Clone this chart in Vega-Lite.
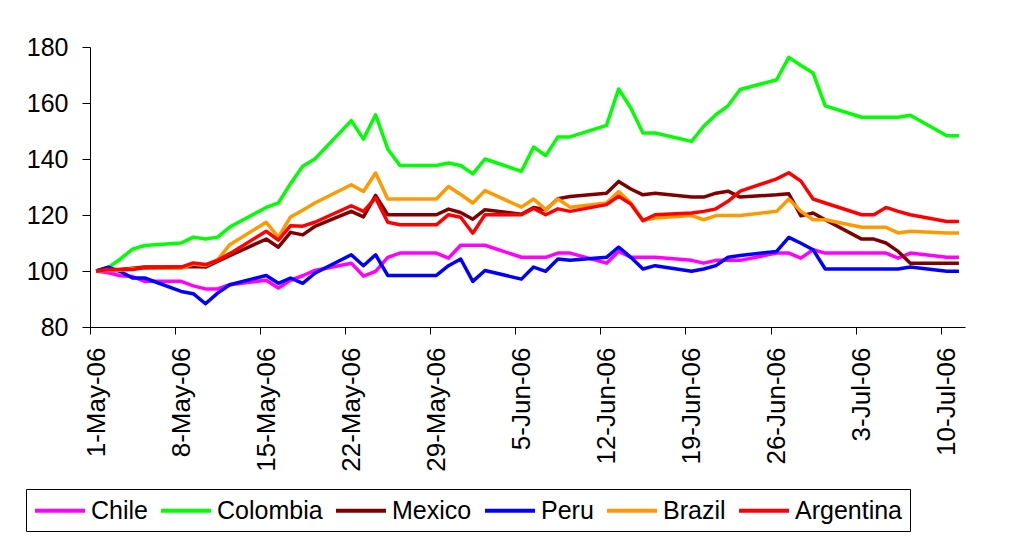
{
  "$schema": "https://vega.github.io/schema/vega-lite/v6.json",
  "autosize": {"type": "none"},
  "padding": {"left": 90, "top": 47, "right": 44, "bottom": 213},
  "width": 875,
  "height": 280,
  "background": "white",
  "config": {
    "view": {"stroke": null},
    "font": "Liberation Sans",
    "axis": {"grid": false, "domainColor": "#000", "tickColor": "#000", "labelColor": "#000", "labelFont": "Liberation Sans", "labelFontSize": 24, "title": null}
  },
  "datasets": {
    "series": [
      {"country":"Chile","date":"2006/05/01","value":100},{"country":"Chile","date":"2006/05/02","value":99.4},{"country":"Chile","date":"2006/05/03","value":98.3},{"country":"Chile","date":"2006/05/04","value":98},{"country":"Chile","date":"2006/05/05","value":96.3},
      {"country":"Chile","date":"2006/05/08","value":96.3},{"country":"Chile","date":"2006/05/09","value":94.7},{"country":"Chile","date":"2006/05/10","value":93.6},{"country":"Chile","date":"2006/05/11","value":93.6},{"country":"Chile","date":"2006/05/12","value":95.1},
      {"country":"Chile","date":"2006/05/15","value":96.7},{"country":"Chile","date":"2006/05/16","value":93.9},{"country":"Chile","date":"2006/05/17","value":96.7},{"country":"Chile","date":"2006/05/18","value":98.3},{"country":"Chile","date":"2006/05/19","value":100.2},
      {"country":"Chile","date":"2006/05/22","value":102.8},{"country":"Chile","date":"2006/05/23","value":98.2},{"country":"Chile","date":"2006/05/24","value":99.9},{"country":"Chile","date":"2006/05/25","value":104.9},{"country":"Chile","date":"2006/05/26","value":106.4},
      {"country":"Chile","date":"2006/05/29","value":106.4},{"country":"Chile","date":"2006/05/30","value":104.6},{"country":"Chile","date":"2006/05/31","value":109.2},{"country":"Chile","date":"2006/06/01","value":109.2},{"country":"Chile","date":"2006/06/02","value":109.2},
      {"country":"Chile","date":"2006/06/05","value":104.9},{"country":"Chile","date":"2006/06/06","value":104.9},{"country":"Chile","date":"2006/06/07","value":104.9},{"country":"Chile","date":"2006/06/08","value":106.4},{"country":"Chile","date":"2006/06/09","value":106.4},
      {"country":"Chile","date":"2006/06/12","value":102.8},{"country":"Chile","date":"2006/06/13","value":107},{"country":"Chile","date":"2006/06/14","value":104.9},{"country":"Chile","date":"2006/06/15","value":104.9},{"country":"Chile","date":"2006/06/16","value":104.9},
      {"country":"Chile","date":"2006/06/19","value":103.8},{"country":"Chile","date":"2006/06/20","value":102.8},{"country":"Chile","date":"2006/06/21","value":103.8},{"country":"Chile","date":"2006/06/22","value":103.8},{"country":"Chile","date":"2006/06/23","value":103.8},
      {"country":"Chile","date":"2006/06/26","value":106.4},{"country":"Chile","date":"2006/06/27","value":106.4},{"country":"Chile","date":"2006/06/28","value":104.6},{"country":"Chile","date":"2006/06/29","value":107.6},{"country":"Chile","date":"2006/06/30","value":106.4},
      {"country":"Chile","date":"2006/07/03","value":106.4},{"country":"Chile","date":"2006/07/04","value":106.4},{"country":"Chile","date":"2006/07/05","value":106.4},{"country":"Chile","date":"2006/07/06","value":104.6},{"country":"Chile","date":"2006/07/07","value":106.4},
      {"country":"Chile","date":"2006/07/10","value":104.9},{"country":"Chile","date":"2006/07/11","value":104.9},

      {"country":"Colombia","date":"2006/05/01","value":100},{"country":"Colombia","date":"2006/05/02","value":101.2},{"country":"Colombia","date":"2006/05/03","value":104.3},{"country":"Colombia","date":"2006/05/04","value":107.8},{"country":"Colombia","date":"2006/05/05","value":109.1},
      {"country":"Colombia","date":"2006/05/08","value":110},{"country":"Colombia","date":"2006/05/09","value":112.1},{"country":"Colombia","date":"2006/05/10","value":111.4},{"country":"Colombia","date":"2006/05/11","value":112.1},{"country":"Colombia","date":"2006/05/12","value":115.7},
      {"country":"Colombia","date":"2006/05/15","value":122.7},{"country":"Colombia","date":"2006/05/16","value":124.3},{"country":"Colombia","date":"2006/05/17","value":131.2},{"country":"Colombia","date":"2006/05/18","value":137.4},{"country":"Colombia","date":"2006/05/19","value":140},
      {"country":"Colombia","date":"2006/05/22","value":153.7},{"country":"Colombia","date":"2006/05/23","value":147.1},{"country":"Colombia","date":"2006/05/24","value":155.8},{"country":"Colombia","date":"2006/05/25","value":143.6},{"country":"Colombia","date":"2006/05/26","value":137.7},
      {"country":"Colombia","date":"2006/05/29","value":137.7},{"country":"Colombia","date":"2006/05/30","value":138.6},{"country":"Colombia","date":"2006/05/31","value":137.7},{"country":"Colombia","date":"2006/06/01","value":134.7},{"country":"Colombia","date":"2006/06/02","value":140},
      {"country":"Colombia","date":"2006/06/05","value":135.6},{"country":"Colombia","date":"2006/06/06","value":144.3},{"country":"Colombia","date":"2006/06/07","value":141.2},{"country":"Colombia","date":"2006/06/08","value":147.9},{"country":"Colombia","date":"2006/06/09","value":147.9},
      {"country":"Colombia","date":"2006/06/12","value":152},{"country":"Colombia","date":"2006/06/13","value":165},{"country":"Colombia","date":"2006/06/14","value":158.2},{"country":"Colombia","date":"2006/06/15","value":149.3},{"country":"Colombia","date":"2006/06/16","value":149.3},
      {"country":"Colombia","date":"2006/06/19","value":146.3},{"country":"Colombia","date":"2006/06/20","value":151.7},{"country":"Colombia","date":"2006/06/21","value":155.8},{"country":"Colombia","date":"2006/06/22","value":159},{"country":"Colombia","date":"2006/06/23","value":164.8},
      {"country":"Colombia","date":"2006/06/26","value":168.3},{"country":"Colombia","date":"2006/06/27","value":176.3},{"country":"Colombia","date":"2006/06/28","value":173.4},{"country":"Colombia","date":"2006/06/29","value":170.7},{"country":"Colombia","date":"2006/06/30","value":159},
      {"country":"Colombia","date":"2006/07/03","value":154.9},{"country":"Colombia","date":"2006/07/04","value":154.9},{"country":"Colombia","date":"2006/07/05","value":154.9},{"country":"Colombia","date":"2006/07/06","value":154.9},{"country":"Colombia","date":"2006/07/07","value":155.6},
      {"country":"Colombia","date":"2006/07/10","value":148.3},{"country":"Colombia","date":"2006/07/11","value":148.3},

      {"country":"Mexico","date":"2006/05/01","value":100},{"country":"Mexico","date":"2006/05/02","value":100.3},{"country":"Mexico","date":"2006/05/03","value":100.5},{"country":"Mexico","date":"2006/05/04","value":101},{"country":"Mexico","date":"2006/05/05","value":101.4},
      {"country":"Mexico","date":"2006/05/08","value":101.4},{"country":"Mexico","date":"2006/05/09","value":101.6},{"country":"Mexico","date":"2006/05/10","value":101.4},{"country":"Mexico","date":"2006/05/11","value":103.4},{"country":"Mexico","date":"2006/05/12","value":105.5},
      {"country":"Mexico","date":"2006/05/15","value":111.4},{"country":"Mexico","date":"2006/05/16","value":108.5},{"country":"Mexico","date":"2006/05/17","value":113.8},{"country":"Mexico","date":"2006/05/18","value":112.9},{"country":"Mexico","date":"2006/05/19","value":115.9},
      {"country":"Mexico","date":"2006/05/22","value":121.3},{"country":"Mexico","date":"2006/05/23","value":119.3},{"country":"Mexico","date":"2006/05/24","value":127},{"country":"Mexico","date":"2006/05/25","value":120.1},{"country":"Mexico","date":"2006/05/26","value":120.1},
      {"country":"Mexico","date":"2006/05/29","value":120.1},{"country":"Mexico","date":"2006/05/30","value":122.1},{"country":"Mexico","date":"2006/05/31","value":120.9},{"country":"Mexico","date":"2006/06/01","value":118.5},{"country":"Mexico","date":"2006/06/02","value":121.9},
      {"country":"Mexico","date":"2006/06/05","value":120.3},{"country":"Mexico","date":"2006/06/06","value":122.7},{"country":"Mexico","date":"2006/06/07","value":121.9},{"country":"Mexico","date":"2006/06/08","value":125.8},{"country":"Mexico","date":"2006/06/09","value":126.6},
      {"country":"Mexico","date":"2006/06/12","value":127.8},{"country":"Mexico","date":"2006/06/13","value":132},{"country":"Mexico","date":"2006/06/14","value":129.3},{"country":"Mexico","date":"2006/06/15","value":127.2},{"country":"Mexico","date":"2006/06/16","value":127.8},
      {"country":"Mexico","date":"2006/06/19","value":126.4},{"country":"Mexico","date":"2006/06/20","value":126.4},{"country":"Mexico","date":"2006/06/21","value":127.8},{"country":"Mexico","date":"2006/06/22","value":128.5},{"country":"Mexico","date":"2006/06/23","value":126.4},
      {"country":"Mexico","date":"2006/06/26","value":127.2},{"country":"Mexico","date":"2006/06/27","value":127.6},{"country":"Mexico","date":"2006/06/28","value":119.7},{"country":"Mexico","date":"2006/06/29","value":120.7},{"country":"Mexico","date":"2006/06/30","value":118.3},
      {"country":"Mexico","date":"2006/07/03","value":111.4},{"country":"Mexico","date":"2006/07/04","value":111.4},{"country":"Mexico","date":"2006/07/05","value":110},{"country":"Mexico","date":"2006/07/06","value":107},{"country":"Mexico","date":"2006/07/07","value":102.8},
      {"country":"Mexico","date":"2006/07/10","value":102.8},{"country":"Mexico","date":"2006/07/11","value":102.8},

      {"country":"Peru","date":"2006/05/01","value":100},{"country":"Peru","date":"2006/05/02","value":101.4},{"country":"Peru","date":"2006/05/03","value":99.8},{"country":"Peru","date":"2006/05/04","value":97.5},{"country":"Peru","date":"2006/05/05","value":97.5},
      {"country":"Peru","date":"2006/05/08","value":92.7},{"country":"Peru","date":"2006/05/09","value":91.9},{"country":"Peru","date":"2006/05/10","value":88.3},{"country":"Peru","date":"2006/05/11","value":92.1},{"country":"Peru","date":"2006/05/12","value":95.1},
      {"country":"Peru","date":"2006/05/15","value":98.4},{"country":"Peru","date":"2006/05/16","value":95.6},{"country":"Peru","date":"2006/05/17","value":97.5},{"country":"Peru","date":"2006/05/18","value":95.6},{"country":"Peru","date":"2006/05/19","value":99.2},
      {"country":"Peru","date":"2006/05/22","value":105.8},{"country":"Peru","date":"2006/05/23","value":101.9},{"country":"Peru","date":"2006/05/24","value":105.8},{"country":"Peru","date":"2006/05/25","value":98.4},{"country":"Peru","date":"2006/05/26","value":98.4},
      {"country":"Peru","date":"2006/05/29","value":98.4},{"country":"Peru","date":"2006/05/30","value":101.9},{"country":"Peru","date":"2006/05/31","value":104.3},{"country":"Peru","date":"2006/06/01","value":96.3},{"country":"Peru","date":"2006/06/02","value":100.2},
      {"country":"Peru","date":"2006/06/05","value":97.1},{"country":"Peru","date":"2006/06/06","value":101.4},{"country":"Peru","date":"2006/06/07","value":99.9},{"country":"Peru","date":"2006/06/08","value":104.3},{"country":"Peru","date":"2006/06/09","value":103.8},
      {"country":"Peru","date":"2006/06/12","value":104.9},{"country":"Peru","date":"2006/06/13","value":108.5},{"country":"Peru","date":"2006/06/14","value":104.9},{"country":"Peru","date":"2006/06/15","value":100.7},{"country":"Peru","date":"2006/06/16","value":101.9},
      {"country":"Peru","date":"2006/06/19","value":99.9},{"country":"Peru","date":"2006/06/20","value":100.7},{"country":"Peru","date":"2006/06/21","value":101.9},{"country":"Peru","date":"2006/06/22","value":104.9},{"country":"Peru","date":"2006/06/23","value":105.5},
      {"country":"Peru","date":"2006/06/26","value":107},{"country":"Peru","date":"2006/06/27","value":112},{"country":"Peru","date":"2006/06/28","value":109.9},{"country":"Peru","date":"2006/06/29","value":107.6},{"country":"Peru","date":"2006/06/30","value":100.7},
      {"country":"Peru","date":"2006/07/03","value":100.7},{"country":"Peru","date":"2006/07/04","value":100.7},{"country":"Peru","date":"2006/07/05","value":100.7},{"country":"Peru","date":"2006/07/06","value":100.7},{"country":"Peru","date":"2006/07/07","value":101.4},
      {"country":"Peru","date":"2006/07/10","value":99.9},{"country":"Peru","date":"2006/07/11","value":99.9},

      {"country":"Brazil","date":"2006/05/01","value":100},{"country":"Brazil","date":"2006/05/02","value":100.2},{"country":"Brazil","date":"2006/05/03","value":100.3},{"country":"Brazil","date":"2006/05/04","value":100.8},{"country":"Brazil","date":"2006/05/05","value":101},
      {"country":"Brazil","date":"2006/05/08","value":101},{"country":"Brazil","date":"2006/05/09","value":102.5},{"country":"Brazil","date":"2006/05/10","value":102},{"country":"Brazil","date":"2006/05/11","value":104},{"country":"Brazil","date":"2006/05/12","value":109.4},
      {"country":"Brazil","date":"2006/05/15","value":117.4},{"country":"Brazil","date":"2006/05/16","value":112.1},{"country":"Brazil","date":"2006/05/17","value":119.3},{"country":"Brazil","date":"2006/05/18","value":121.7},{"country":"Brazil","date":"2006/05/19","value":124.3},
      {"country":"Brazil","date":"2006/05/22","value":130.8},{"country":"Brazil","date":"2006/05/23","value":128.4},{"country":"Brazil","date":"2006/05/24","value":135},{"country":"Brazil","date":"2006/05/25","value":125.7},{"country":"Brazil","date":"2006/05/26","value":125.7},
      {"country":"Brazil","date":"2006/05/29","value":125.7},{"country":"Brazil","date":"2006/05/30","value":130.2},{"country":"Brazil","date":"2006/05/31","value":127.3},{"country":"Brazil","date":"2006/06/01","value":124.3},{"country":"Brazil","date":"2006/06/02","value":128.7},
      {"country":"Brazil","date":"2006/06/05","value":122.8},{"country":"Brazil","date":"2006/06/06","value":125.7},{"country":"Brazil","date":"2006/06/07","value":121.9},{"country":"Brazil","date":"2006/06/08","value":125.7},{"country":"Brazil","date":"2006/06/09","value":122.8},
      {"country":"Brazil","date":"2006/06/12","value":124.3},{"country":"Brazil","date":"2006/06/13","value":128.4},{"country":"Brazil","date":"2006/06/14","value":124.3},{"country":"Brazil","date":"2006/06/15","value":118},{"country":"Brazil","date":"2006/06/16","value":118.9},
      {"country":"Brazil","date":"2006/06/19","value":119.8},{"country":"Brazil","date":"2006/06/20","value":118.3},{"country":"Brazil","date":"2006/06/21","value":119.8},{"country":"Brazil","date":"2006/06/22","value":119.8},{"country":"Brazil","date":"2006/06/23","value":119.8},
      {"country":"Brazil","date":"2006/06/26","value":121.3},{"country":"Brazil","date":"2006/06/27","value":125.7},{"country":"Brazil","date":"2006/06/28","value":121.3},{"country":"Brazil","date":"2006/06/29","value":118.3},{"country":"Brazil","date":"2006/06/30","value":118.3},
      {"country":"Brazil","date":"2006/07/03","value":115.6},{"country":"Brazil","date":"2006/07/04","value":115.6},{"country":"Brazil","date":"2006/07/05","value":115.6},{"country":"Brazil","date":"2006/07/06","value":113.6},{"country":"Brazil","date":"2006/07/07","value":114.2},
      {"country":"Brazil","date":"2006/07/10","value":113.6},{"country":"Brazil","date":"2006/07/11","value":113.6},

      {"country":"Argentina","date":"2006/05/01","value":100},{"country":"Argentina","date":"2006/05/02","value":100.5},{"country":"Argentina","date":"2006/05/03","value":100.5},{"country":"Argentina","date":"2006/05/04","value":100.5},{"country":"Argentina","date":"2006/05/05","value":101.2},
      {"country":"Argentina","date":"2006/05/08","value":101.4},{"country":"Argentina","date":"2006/05/09","value":102.9},{"country":"Argentina","date":"2006/05/10","value":102.3},{"country":"Argentina","date":"2006/05/11","value":103.8},{"country":"Argentina","date":"2006/05/12","value":106.2},
      {"country":"Argentina","date":"2006/05/15","value":114.2},{"country":"Argentina","date":"2006/05/16","value":111},{"country":"Argentina","date":"2006/05/17","value":116.2},{"country":"Argentina","date":"2006/05/18","value":116},{"country":"Argentina","date":"2006/05/19","value":117.4},
      {"country":"Argentina","date":"2006/05/22","value":123.3},{"country":"Argentina","date":"2006/05/23","value":121.3},{"country":"Argentina","date":"2006/05/24","value":126.1},{"country":"Argentina","date":"2006/05/25","value":117.4},{"country":"Argentina","date":"2006/05/26","value":116.5},
      {"country":"Argentina","date":"2006/05/29","value":116.5},{"country":"Argentina","date":"2006/05/30","value":120.1},{"country":"Argentina","date":"2006/05/31","value":119.2},{"country":"Argentina","date":"2006/06/01","value":113.5},{"country":"Argentina","date":"2006/06/02","value":120.1},
      {"country":"Argentina","date":"2006/06/05","value":120.1},{"country":"Argentina","date":"2006/06/06","value":122.3},{"country":"Argentina","date":"2006/06/07","value":120.1},{"country":"Argentina","date":"2006/06/08","value":122.2},{"country":"Argentina","date":"2006/06/09","value":121.3},
      {"country":"Argentina","date":"2006/06/12","value":123.7},{"country":"Argentina","date":"2006/06/13","value":126.7},{"country":"Argentina","date":"2006/06/14","value":123.9},{"country":"Argentina","date":"2006/06/15","value":118},{"country":"Argentina","date":"2006/06/16","value":120.1},
      {"country":"Argentina","date":"2006/06/19","value":120.7},{"country":"Argentina","date":"2006/06/20","value":121.3},{"country":"Argentina","date":"2006/06/21","value":122.2},{"country":"Argentina","date":"2006/06/22","value":124.9},{"country":"Argentina","date":"2006/06/23","value":128.5},
      {"country":"Argentina","date":"2006/06/26","value":132.9},{"country":"Argentina","date":"2006/06/27","value":135.1},{"country":"Argentina","date":"2006/06/28","value":132.1},{"country":"Argentina","date":"2006/06/29","value":125.7},{"country":"Argentina","date":"2006/06/30","value":124.3},
      {"country":"Argentina","date":"2006/07/03","value":120.1},{"country":"Argentina","date":"2006/07/04","value":120.1},{"country":"Argentina","date":"2006/07/05","value":122.7},{"country":"Argentina","date":"2006/07/06","value":121.3},{"country":"Argentina","date":"2006/07/07","value":120.1},
      {"country":"Argentina","date":"2006/07/10","value":117.7},{"country":"Argentina","date":"2006/07/11","value":117.7}
    ]
  },
  "data": {"name": "series"},
  "mark": {"type": "line", "strokeWidth": 3.5, "strokeJoin": "round", "clip": false},
  "encoding": {
    "x": {
      "field": "date",
      "type": "temporal",
      "scale": {"domain": [{"year": 2006, "month": 4, "date": 30, "hours": 12}, {"year": 2006, "month": 7, "date": 11, "hours": 12}]},
      "axis": {
        "values": [
          {"year": 2006, "month": 5, "date": 1}, {"year": 2006, "month": 5, "date": 8}, {"year": 2006, "month": 5, "date": 15},
          {"year": 2006, "month": 5, "date": 22}, {"year": 2006, "month": 5, "date": 29}, {"year": 2006, "month": 6, "date": 5},
          {"year": 2006, "month": 6, "date": 12}, {"year": 2006, "month": 6, "date": 19}, {"year": 2006, "month": 6, "date": 26},
          {"year": 2006, "month": 7, "date": 3}, {"year": 2006, "month": 7, "date": 10}
        ],
        "format": "%-d-%b-%y",
        "labelAngle": 270,
        "labelAlign": "right",
        "labelBaseline": "middle",
        "labelFontSize": 26,
        "tickSize": 7,
        "labelPadding": 13,
        "tickOffset": -6.08,
        "labelOffset": 6.08,
        "labelFlush": false,
        "labelOverlap": false,
        "labelBound": false
      }
    },
    "y": {
      "field": "value",
      "type": "quantitative",
      "scale": {"domain": [80, 180], "nice": false, "zero": false},
      "axis": {"values": [80, 100, 120, 140, 160, 180], "tickSize": 8, "labelPadding": 14, "labelFontSize": 25}
    },
    "color": {
      "field": "country",
      "type": "nominal",
      "sort": null,
      "scale": {"domain": ["Chile", "Colombia", "Mexico", "Peru", "Brazil", "Argentina"], "range": ["#FF00FF", "#00FF00", "#800000", "#0000FF", "#FF9900", "#FF0000"]},
      "legend": {
        "orient": "none",
        "legendX": -64,
        "legendY": 442,
        "direction": "horizontal",
        "title": null,
        "symbolType": "M-1,0H3",
        "symbolSize": 625,
        "symbolStrokeWidth": 4,
        "labelFont": "Liberation Sans",
        "labelFontSize": 25,
        "labelColor": "#000",
        "labelOffset": 29,
        "labelLimit": 0,
        "columnPadding": 5,
        "padding": 7,
        "strokeColor": "#000"
      }
    }
  }
}
